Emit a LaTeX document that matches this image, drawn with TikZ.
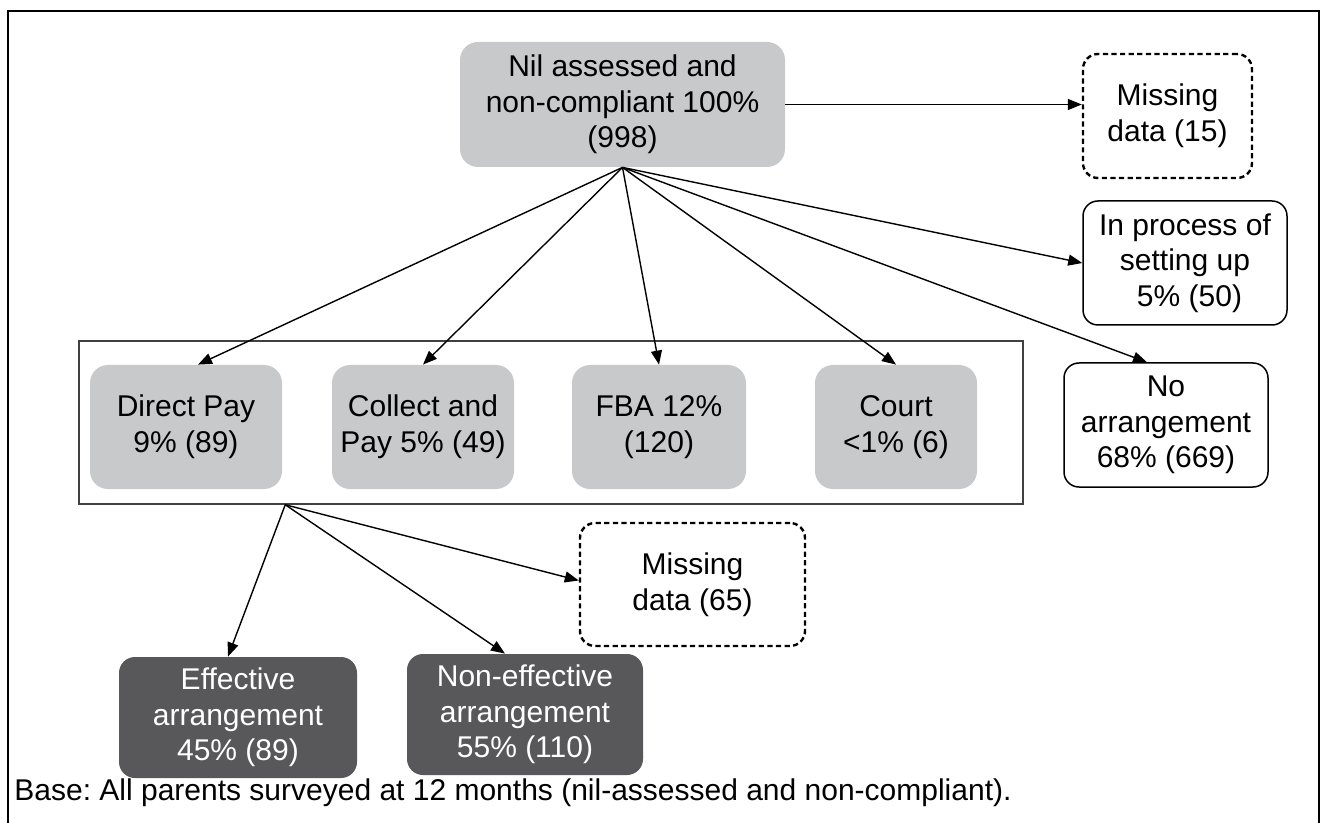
\documentclass[tikz,border=0pt]{standalone}
\usepackage{fontspec}
\setmainfont{Liberation Sans}
\usetikzlibrary{arrows.meta}
\definecolor{boxgray}{RGB}{200,201,203}
\definecolor{boxdark}{RGB}{88,88,90}
\frenchspacing
\tikzset{
  txt/.style={font=\fontsize{15pt}{17.8pt}\selectfont, align=center, inner sep=0pt},
  graybox/.style={txt, fill=boxgray, rounded corners=9pt},
  darkbox/.style={txt, fill=boxdark, text=white, rounded corners=8pt},
  whitebox/.style={txt, draw=black, line width=0.75pt, rounded corners=7.5pt},
  dashbox/.style={txt, draw=black, line width=1.2pt, dash pattern=on 2.6pt off 1.7pt, rounded corners=7.5pt},
  conn/.style={line width=0.7pt, -{Triangle[length=7pt,width=5.5pt]}},
}
\begin{document}
\begin{tikzpicture}[x=0.5pt,y=-0.5pt]
\fill[white] (0,0) rectangle (1322,823);
\useasboundingbox (0,0) rectangle (1322,823);
% outer frame
\draw[line width=1pt] (8,830) -- (8,11) -- (1319,11) -- (1319,830);

% top node
\node[graybox, minimum width=162.5pt, minimum height=62.5pt] (top) at (622.5,104.5)
  {Nil assessed and\\non-compliant 100\%\\(998)};
\node[dashbox, minimum width=84.5pt, minimum height=62pt] (miss1) at (1167.5,116)
  {Missing\\data (15)};
\node[whitebox, minimum width=102pt, minimum height=62pt] (proc) at (1185,263)
  {In process of\\setting up\\\hspace*{0.3em}5\% (50)};
\node[whitebox, minimum width=102pt, minimum height=62pt] (noarr) at (1166,425)
  {No\\arrangement\\68\% (669)};

% group
\node[draw=black!75, line width=0.75pt, minimum width=472pt, minimum height=81.5pt, inner sep=0pt] (group) at (551,422.5) {};
\node[graybox, minimum width=96pt, minimum height=62pt] (dp) at (186,427) {Direct Pay\\9\% (89)};
\node[graybox, minimum width=91pt, minimum height=62pt] (cp) at (423,427) {Collect and\\Pay 5\% (49)};
\node[graybox, minimum width=87pt, minimum height=62pt] (fba) at (659,427) {FBA 12\%\\(120)};
\node[graybox, minimum width=81pt, minimum height=62pt] (court) at (896,427) {Court\\<1\% (6)};

% bottom
\node[dashbox, minimum width=112.5pt, minimum height=61.5pt] (miss2) at (692.5,584.5) {Missing\\data (65)};
\node[darkbox, minimum width=119pt, minimum height=60.5pt] (eff) at (238,717.5) {Effective\\arrangement\\45\% (89)};
\node[darkbox, minimum width=118pt, minimum height=60.5pt] (noneff) at (525,714.5) {Non-effective\\arrangement\\55\% (110)};

\node[txt, anchor=west] (base) at (14,793) {Base: All parents surveyed at 12 months (nil-assessed and non-compliant).};

% connectors from top
\draw[conn] (top.east) -- (top.east -| miss1.west);
\draw[conn] (top.south) -- ([xshift=6pt]dp.north);
\draw[conn] (top.south) -- (cp.north);
\draw[conn] (top.south) -- (fba.north);
\draw[conn] (top.south) -- (court.north);
\draw[conn] (top.south) -- (proc.west);
\draw[conn] (top.south) -- ([xshift=-9.5pt]noarr.north);

% connectors from group
\coordinate (fan2) at ([xshift=103.5pt]group.south west);
\draw[conn] (fan2) -- ([xshift=-5pt]eff.north);
\draw[conn] (fan2) -- ([xshift=-10pt]noneff.north);
\draw[conn] (fan2) -- ([yshift=2pt]miss2.west);
\end{tikzpicture}
\end{document}
